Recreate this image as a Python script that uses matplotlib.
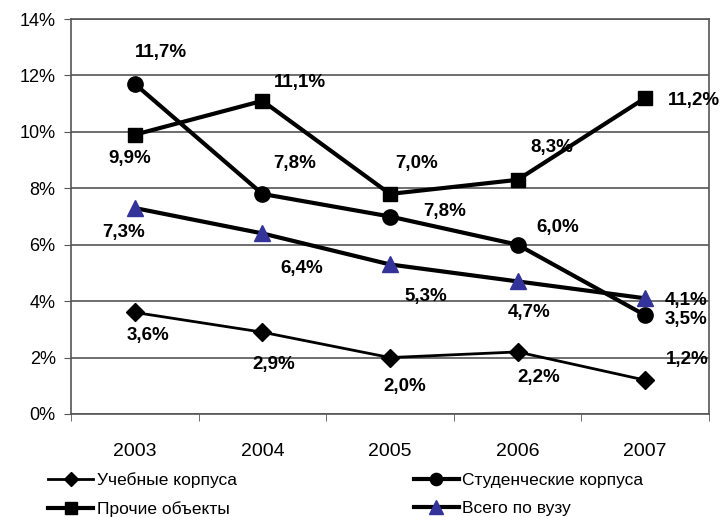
import matplotlib
matplotlib.use('Agg')
import matplotlib.pyplot as plt
import numpy as np

plt.rcParams['font.family'] = ['Liberation Sans', 'DejaVu Sans']

# Data
years = ['2003', '2004', '2005', '2006', '2007']
uchebnye = [3.6, 2.9, 2.0, 2.2, 1.2]
studench = [11.7, 7.8, 7.0, 6.0, 3.5]
prochie = [9.9, 11.1, 7.8, 8.3, 11.2]
vsego = [7.3, 6.4, 5.3, 4.7, 4.1]

# Labels as placed in the original chart
lab_uchebnye = ['3,6%', '2,9%', '2,0%', '2,2%', '1,2%']
lab_studench = ['11,7%', '7,8%', '7,0%', '6,0%', '3,5%']
lab_prochie = ['9,9%', '11,1%', '7,8%', '8,3%', '11,2%']
lab_vsego = ['7,3%', '6,4%', '5,3%', '4,7%', '4,1%']

# Label offsets in pixels (dx, dy) relative to the points
off_uchebnye = [(13, -23), (11, -32), (15, -29), (21, -26), (42, 21)]
off_studench = [(26, 31), (32, 30), (27, 53), (40, 17), (41, -4)]
off_prochie = [(-5, -24), (38, 18), (55, -18), (34, 32), (49, -2)]
off_vsego = [(-11, -24), (39, -35), (36, -32), (12, -31), (41, -2)]

fig = plt.figure(figsize=(7.21, 5.17), dpi=100)
ax = fig.add_axes([71 / 721, 103 / 517, 638 / 721, 395 / 517])

x = np.arange(len(years))
l1, = ax.plot(x, uchebnye, color='black', lw=2, marker='D', ms=9, label='Учебные корпуса', zorder=3)
l2, = ax.plot(x, studench, color='black', lw=3, marker='o', ms=11, label='Студенческие корпуса', zorder=3)
l3, = ax.plot(x, prochie, color='black', lw=3, marker='s', ms=10, label='Прочие объекты', zorder=3)
l4, = ax.plot(x, vsego, color='black', lw=3, marker='^', ms=12, mfc='#333399', mec='#333399',
              label='Всего по вузу', zorder=3)

for vals, labs, offs in [(uchebnye, lab_uchebnye, off_uchebnye),
                         (studench, lab_studench, off_studench),
                         (prochie, lab_prochie, off_prochie),
                         (vsego, lab_vsego, off_vsego)]:
    for i in range(len(vals)):
        ax.annotate(labs[i], (x[i], vals[i]), xytext=offs[i], textcoords='offset pixels',
                    ha='center', va='center', fontsize=13.5, fontweight='bold',
                    annotation_clip=False, zorder=4)

ax.set_xlim(-0.5, 4.5)
ax.set_ylim(0, 14)
ax.set_yticks(np.arange(0, 15, 2))
ax.set_yticklabels([f'{v}%' for v in range(0, 15, 2)])
ax.set_xticks(x)
ax.set_xticklabels(years)
ax.set_xticks(np.arange(-0.5, 5, 1), minor=True)
ax.tick_params(axis='x', which='major', length=0, pad=21, labelsize=14)
ax.tick_params(axis='x', which='minor', length=5, color='#555555', direction='out')
ax.tick_params(axis='y', length=5, color='#555555', labelsize=13, pad=6)
ax.grid(axis='y', color='#555555', lw=1.2)
ax.set_axisbelow(True)
for s in ax.spines.values():
    s.set_color('#555555')
    s.set_linewidth(1.2)

# legend fills column-wise, so order handles to get the reference rows
fig.legend([l1, l3, l2, l4], [l1.get_label(), l3.get_label(), l2.get_label(), l4.get_label()],
           loc='upper left', bbox_to_anchor=(48 / 721, 1 - 472 / 517), ncol=2, frameon=False,
           fontsize=12.5, handlelength=2.6, handletextpad=0.2, columnspacing=10.2,
           labelspacing=0.75, borderaxespad=0, borderpad=0, markerscale=0.8)

plt.savefig('out.png', dpi=100)
